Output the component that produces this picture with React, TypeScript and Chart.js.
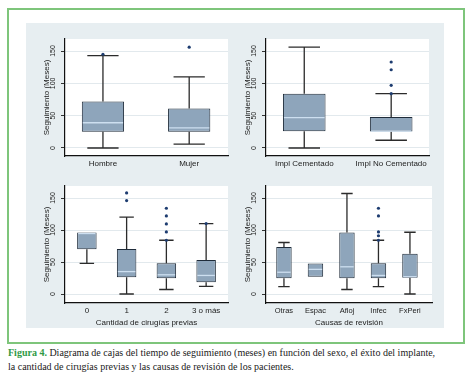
import React, { useEffect, useRef } from 'react';
import { Chart, registerables } from 'chart.js';

Chart.register(...registerables);

// ---------- Data ----------
const yTickValues = [0, 50, 100, 150];
const yTitle = 'Seguimiento (Meses)';

// Panel 1: sexo
const sexoCats = ['Hombre', 'Mujer'];
const sexoMin = [0, 6];
const sexoQ1 = [25, 25];
const sexoMed = [39, 31];
const sexoQ3 = [72, 61];
const sexoMax = [143, 110];
const sexoOut = [[145], [156]];

// Panel 2: implante
const implCats = ['Impl Cementado', 'Impl No Cementado'];
const implMin = [0, 12];
const implQ1 = [26, 25.5];
const implMed = [47, 26];
const implQ3 = [84, 48];
const implMax = [156, 84];
const implOut = [[], [133, 121, 97, 84]];

// Panel 3: cirugías previas
const cirCats = ['0', '1', '2', '3 o más'];
const cirMin = [48, 0, 7, 12];
const cirQ1 = [70, 26, 24.5, 18.5];
const cirMed = [94.5, 35, 30, 29];
const cirQ3 = [96, 70.5, 48, 53];
const cirMax = [96, 120, 84, 110];
const cirOut = [[], [158, 146], [134, 122, 109.5, 97, 84], [110]];

// Panel 4: causas de revisión
const causaCats = ['Otras', 'Espac', 'Afloj', 'Infec', 'FxPeri'];
const causaMin = [11.5, 27, 7, 11.5, 0];
const causaQ1 = [24.5, 27, 24.5, 24.5, 25.5];
const causaMed = [34, 38.5, 42.5, 29, 27];
const causaQ3 = [73.5, 47.5, 96, 48, 63];
const causaMax = [80.5, 47.5, 157, 84, 96.5];
const causaOut = [[], [], [], [134, 122, 97, 91, 84], []];

// ---------- Styling / layout ----------
const SANS = "'Liberation Sans', Arial, Helvetica, sans-serif";
const BOX_FILL = '#8ea5bb';
const BOX_EDGE = '#1f2c3a';
const MEDIAN = '#cddff0';
const WHISKER = '#2b2b2b';
const DOT = '#1d3c70';
const GRID = '#e2e9ed';
const TEXT = '#222';

type Panel = {
  cats: string[]; mins: number[]; q1s: number[]; meds: number[]; q3s: number[]; maxs: number[]; outs: number[][];
  xTitle?: string;
  left: number; top: number; w: number; h: number;
  yAxisW: number; padRight: number; padTop: number; xAxisH: number; yTitlePad: number;
  xMin: number; xMax: number; yMin: number; yMax: number; catFont: number;
};

const panels: Panel[] = [
  {
    cats: sexoCats, mins: sexoMin, q1s: sexoQ1, meds: sexoMed, q3s: sexoQ3, maxs: sexoMax, outs: sexoOut,
    left: 26, top: 23, w: 206, h: 153, yAxisW: 39, padRight: 4, padTop: 16, xAxisH: 20, yTitlePad: 16,
    xMin: -0.44, xMax: 1.45, yMin: -12.4, yMax: 168.6, catFont: 8,
  },
  {
    cats: implCats, mins: implMin, q1s: implQ1, meds: implMed, q3s: implQ3, maxs: implMax, outs: implOut,
    left: 232, top: 23, w: 212, h: 153, yAxisW: 34, padRight: 15, padTop: 16, xAxisH: 20, yTitlePad: 11,
    xMin: -0.44, xMax: 1.435, yMin: -12.4, yMax: 168.6, catFont: 8,
  },
  {
    cats: cirCats, mins: cirMin, q1s: cirQ1, meds: cirMed, q3s: cirQ3, maxs: cirMax, outs: cirOut,
    xTitle: 'Cantidad de cirugías previas',
    left: 26, top: 176, w: 206, h: 152, yAxisW: 39, padRight: 4, padTop: 10, xAxisH: 25, yTitlePad: 16,
    xMin: -0.55, xMax: 3.55, yMin: -14.06, yMax: 168.75, catFont: 8,
  },
  {
    cats: causaCats, mins: causaMin, q1s: causaQ1, meds: causaMed, q3s: causaQ3, maxs: causaMax, outs: causaOut,
    xTitle: 'Causas de revisión',
    left: 232, top: 176, w: 212, h: 152, yAxisW: 34, padRight: 12, padTop: 10, xAxisH: 25, yTitlePad: 11,
    xMin: -0.57, xMax: 4.7, yMin: -14.06, yMax: 168.75, catFont: 7.5,
  },
];

const boxPlugin = {
  id: 'boxWhiskers',
  beforeDraw(chart: any) {
    const { ctx, chartArea } = chart;
    ctx.save();
    ctx.fillStyle = '#ffffff';
    ctx.fillRect(chartArea.left, chartArea.top, chartArea.right - chartArea.left, chartArea.bottom - chartArea.top);
    ctx.restore();
  },
  beforeDatasetsDraw(chart: any, _args: any, opts: any) {
    const { ctx } = chart;
    const meta = chart.getDatasetMeta(1);
    const ys = chart.scales.y;
    ctx.save();
    ctx.strokeStyle = WHISKER;
    ctx.lineWidth = 1.3;
    meta.data.forEach((el: any, i: number) => {
      const { x, width } = el.getProps(['x', 'width'], true);
      const cap = width * 0.74;
      const seg = (a: number, b: number) => {
        if (b === a) return;
        const pa = ys.getPixelForValue(a);
        const pb = ys.getPixelForValue(b);
        ctx.beginPath();
        ctx.moveTo(x, pa);
        ctx.lineTo(x, pb);
        ctx.moveTo(x - cap / 2, pb);
        ctx.lineTo(x + cap / 2, pb);
        ctx.stroke();
      };
      seg(opts.q3s[i], opts.maxs[i]);
      seg(opts.q1s[i], opts.mins[i]);
    });
    ctx.restore();
  },
  afterDatasetsDraw(chart: any, _args: any, opts: any) {
    const { ctx } = chart;
    const meta = chart.getDatasetMeta(1);
    const ys = chart.scales.y;
    ctx.save();
    ctx.strokeStyle = MEDIAN;
    ctx.lineWidth = 1.3;
    meta.data.forEach((el: any, i: number) => {
      const { x, width } = el.getProps(['x', 'width'], true);
      const py = ys.getPixelForValue(opts.meds[i]);
      ctx.beginPath();
      ctx.moveTo(x - width / 2 + 1, py);
      ctx.lineTo(x + width / 2 - 1, py);
      ctx.stroke();
    });
    ctx.restore();
  },
};

function makeConfig(p: Panel): any {
  const outPoints: { x: number; y: number }[] = [];
  p.outs.forEach((arr, i) => arr.forEach((v) => outPoints.push({ x: i, y: v })));
  return {
    type: 'bar',
    data: {
      datasets: [
        {
          type: 'scatter',
          data: outPoints,
          pointRadius: 1.6,
          pointBackgroundColor: DOT,
          pointBorderWidth: 0,
          showLine: false,
        },
        {
          type: 'bar',
          data: p.cats.map((_, i) => ({ x: i, y: [p.q1s[i], p.q3s[i]] })),
          backgroundColor: BOX_FILL,
          borderColor: BOX_EDGE,
          borderWidth: 1,
          borderSkipped: false,
          barPercentage: 0.49,
          categoryPercentage: 1,
        },
      ],
    },
    plugins: [boxPlugin],
    options: {
      animation: false,
      responsive: false,
      maintainAspectRatio: false,
      devicePixelRatio: 1,
      events: [],
      layout: { padding: { left: 0, right: p.padRight, top: p.padTop, bottom: 0 } },
      plugins: {
        legend: { display: false },
        tooltip: { enabled: false },
        boxWhiskers: { mins: p.mins, q1s: p.q1s, meds: p.meds, q3s: p.q3s, maxs: p.maxs },
      },
      scales: {
        x: {
          type: 'linear',
          offset: false,
          min: p.xMin,
          max: p.xMax,
          afterBuildTicks: (axis: any) => {
            axis.ticks = p.cats.map((_, i) => ({ value: i }));
          },
          afterFit: (axis: any) => {
            axis.height = p.xAxisH;
          },
          ticks: {
            autoSkip: false,
            maxRotation: 0,
            minRotation: 0,
            padding: 3,
            color: TEXT,
            font: { family: SANS, size: p.catFont },
            callback: (v: any) => p.cats[Math.round(v)] ?? '',
          },
          grid: { display: false, drawTicks: false, offset: false },
          border: { display: true, color: '#111', width: 1.2 },
          title: p.xTitle
            ? { display: true, text: p.xTitle, color: TEXT, font: { family: SANS, size: 8 }, padding: { top: 0, bottom: 0 } }
            : { display: false },
        },
        y: {
          type: 'linear',
          min: p.yMin,
          max: p.yMax,
          afterBuildTicks: (axis: any) => {
            axis.ticks = yTickValues.map((v) => ({ value: v }));
          },
          afterFit: (axis: any) => {
            axis.width = p.yAxisW;
          },
          ticks: {
            minRotation: 90,
            maxRotation: 90,
            crossAlign: 'center',
            padding: 2,
            color: TEXT,
            font: { family: SANS, size: 7 },
            callback: (v: any) => String(v),
          },
          grid: { color: GRID, lineWidth: 1, tickColor: '#333', tickLength: 4, drawTicks: true },
          border: { display: true, color: '#111', width: 1.2 },
          title: {
            display: true,
            text: yTitle,
            color: TEXT,
            font: { family: SANS, size: 8 },
            padding: { top: p.yTitlePad, bottom: 0 },
          },
        },
      },
    },
  };
}

function BoxChart({ panel }: { panel: Panel }) {
  const ref = useRef<HTMLCanvasElement>(null);
  useEffect(() => {
    if (!ref.current) return;
    const chart = new Chart(ref.current, makeConfig(panel));
    return () => chart.destroy();
  }, [panel]);
  return (
    <canvas
      ref={ref}
      width={panel.w}
      height={panel.h}
      style={{ position: 'absolute', left: panel.left, top: panel.top, width: panel.w, height: panel.h }}
    />
  );
}

export default function App() {
  return (
    <div style={{ position: 'fixed', left: 0, top: 0, width: 472, height: 382, background: '#fff', overflow: 'hidden' }}>
      <div
        style={{
          position: 'absolute', left: 7, top: 8, width: 458, height: 336,
          boxSizing: 'border-box', border: '2px solid #7ec57b',
        }}
      />
      <div style={{ position: 'absolute', left: 26, top: 23, width: 418, height: 305, background: '#e7eef1' }} />
      {panels.map((p, i) => (
        <BoxChart key={i} panel={p} />
      ))}
      <div
        style={{
          position: 'absolute', left: 8, top: 346, whiteSpace: 'nowrap',
          fontFamily: "'Liberation Serif', 'Times New Roman', serif", fontSize: 10, lineHeight: '14px', color: '#1a1a1a',
        }}
      >
        <div>
          <span style={{ color: '#2f9a45', fontWeight: 'bold' }}>Figura 4.</span> Diagrama de cajas del tiempo de seguimiento (meses) en función del sexo, el éxito del implante,
        </div>
        <div>la cantidad de cirugías previas y las causas de revisión de los pacientes.</div>
      </div>
    </div>
  );
}
